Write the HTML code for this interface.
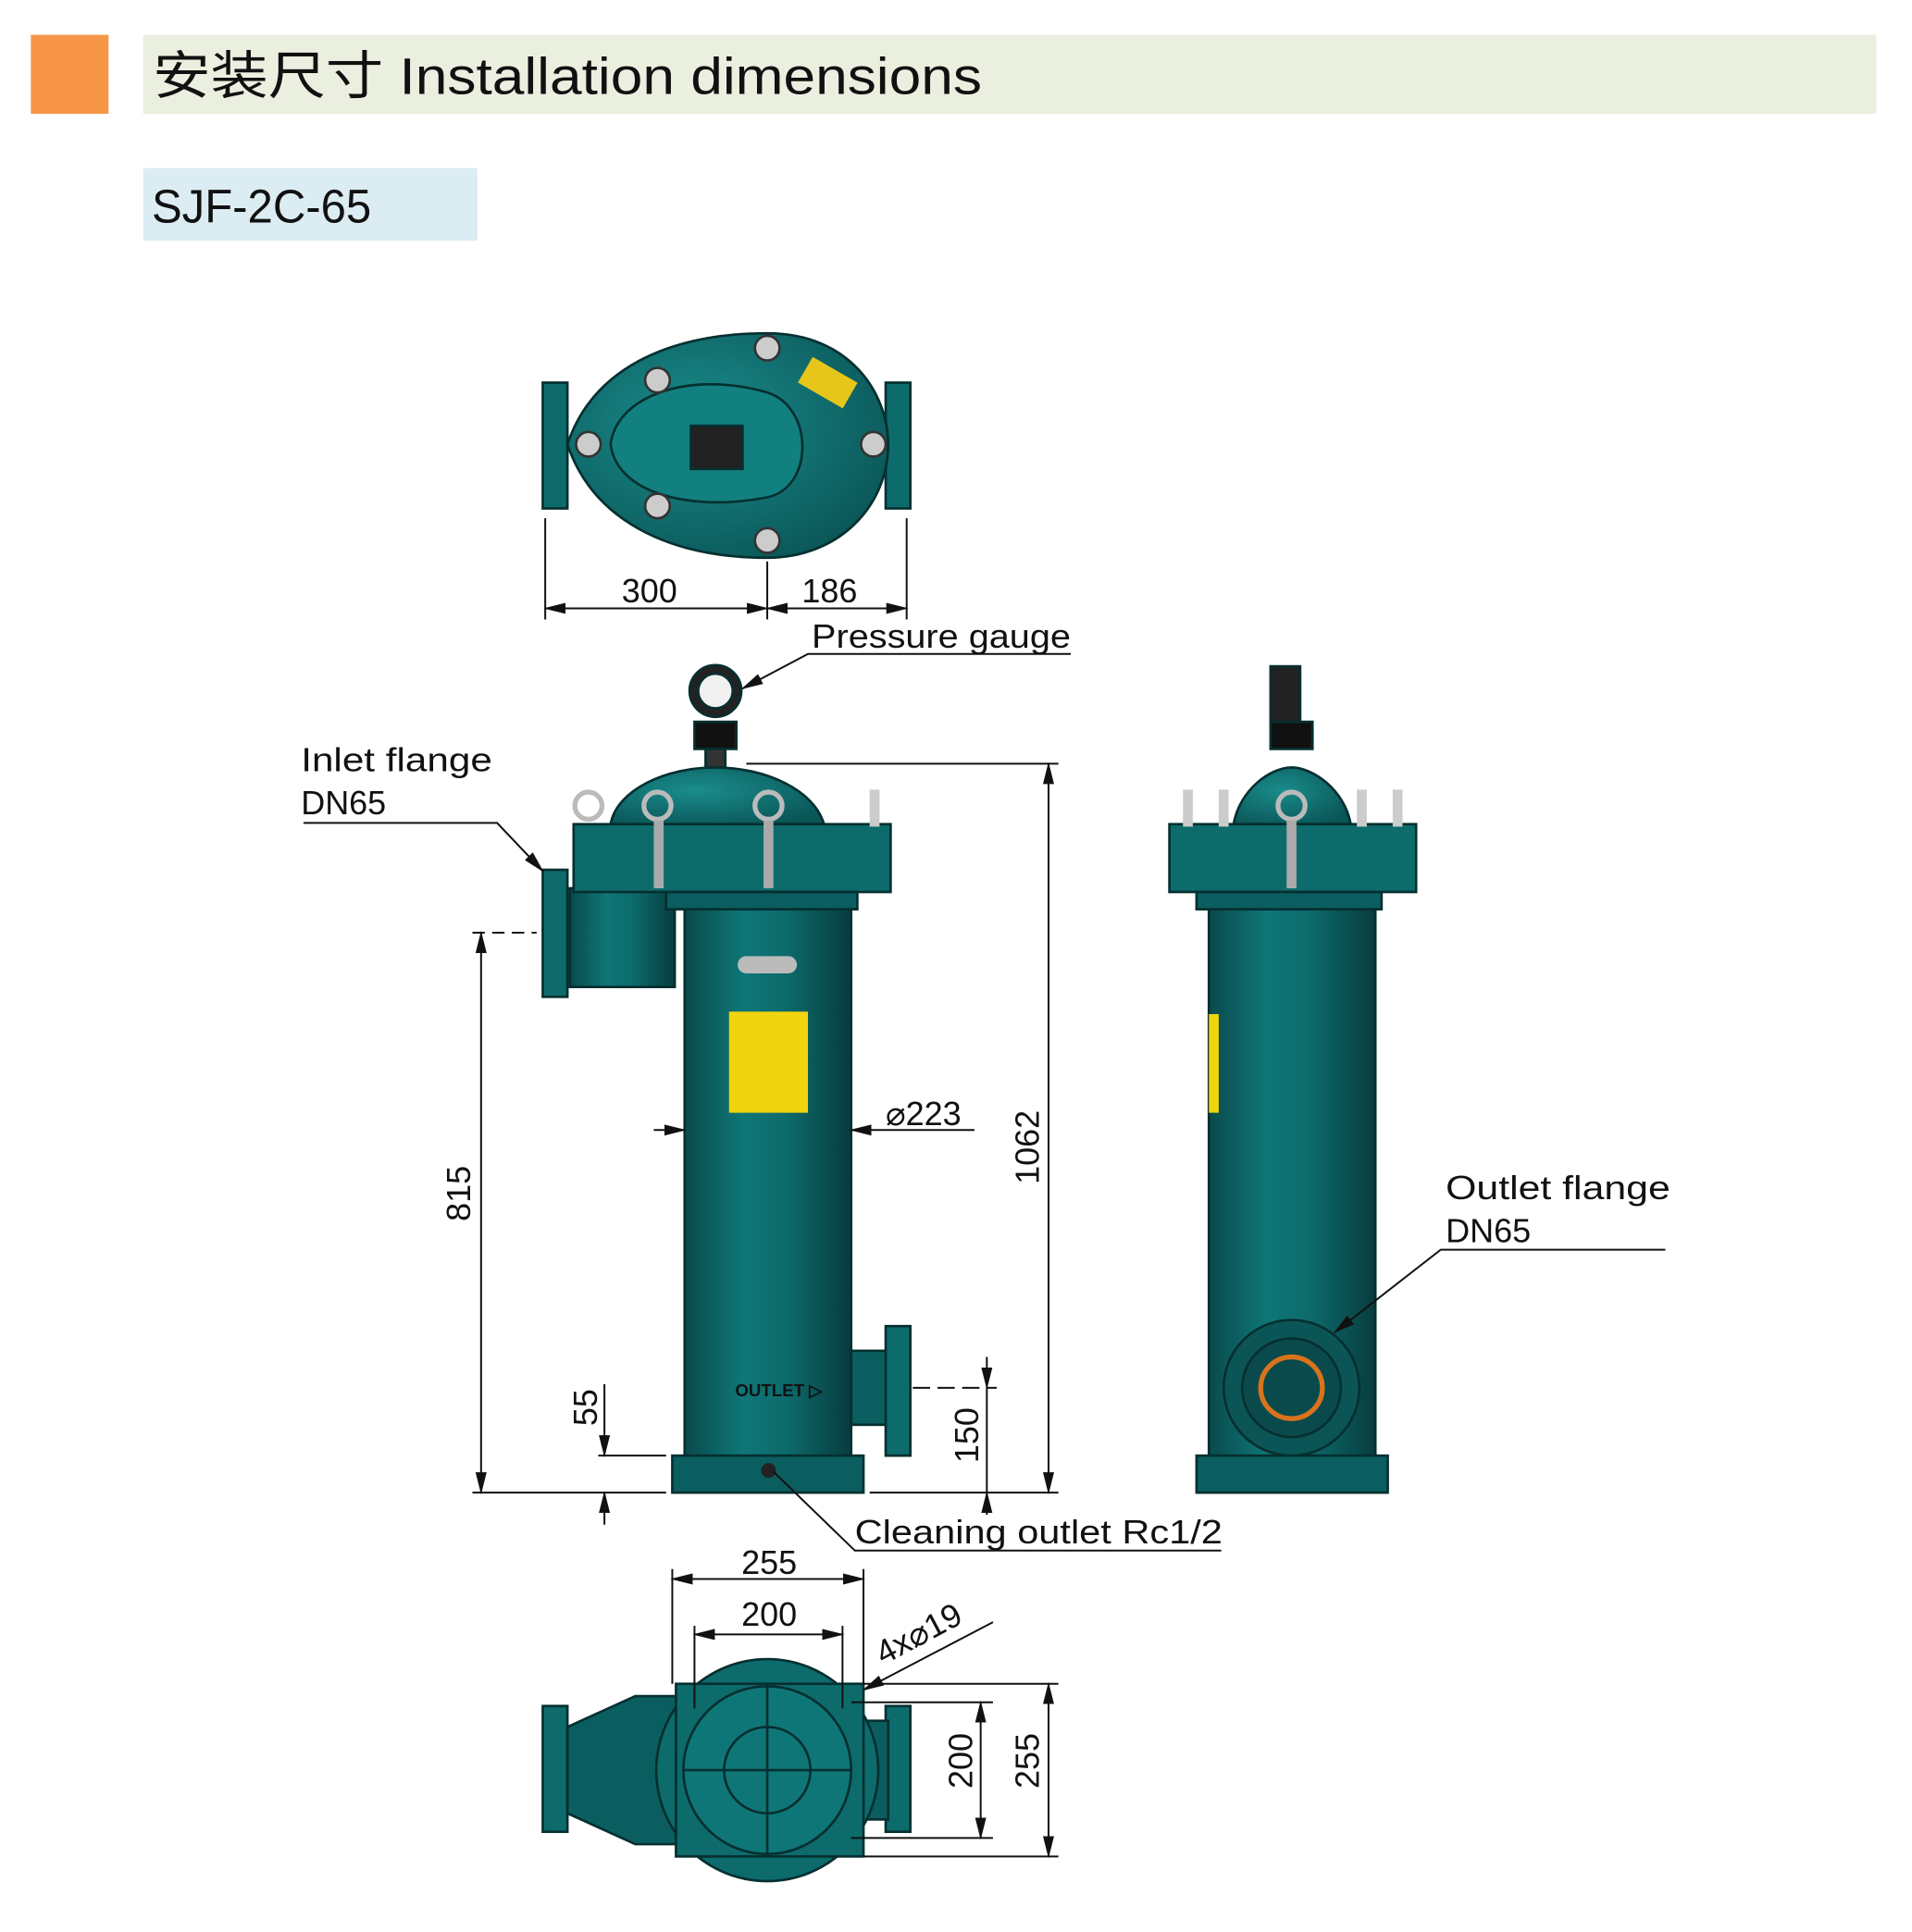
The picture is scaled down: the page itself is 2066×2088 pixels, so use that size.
<!DOCTYPE html>
<html><head><meta charset="utf-8"><style>
html,body{margin:0;padding:0;background:#fff;width:2066px;height:2088px;overflow:hidden}
svg{display:block}
.dim{font-family:"Liberation Sans",sans-serif;font-size:27px;fill:#111}
.lab{font-family:"Liberation Sans",sans-serif;font-size:27px;fill:#111}
</style></head><body>
<svg width="2066" height="2088" viewBox="0 0 1550 1566" xmlns="http://www.w3.org/2000/svg">
<defs>
<linearGradient id="cyl" x1="0" x2="1" y1="0" y2="0">
<stop offset="0" stop-color="#0a4a4c"/><stop offset="0.35" stop-color="#0f7677"/><stop offset="0.6" stop-color="#0d6b6c"/><stop offset="1" stop-color="#073c3e"/></linearGradient>
<radialGradient id="dome" cx="0.4" cy="0.4" r="0.7"><stop offset="0" stop-color="#1a8c8c"/><stop offset="1" stop-color="#0a5556"/></radialGradient>
<marker id="ar" markerWidth="12" markerHeight="8" refX="11" refY="4" orient="auto-start-reverse"><path d="M0,1 L12,4 L0,7 z" fill="#111"/></marker>
</defs>
<!-- header -->
<rect x="25" y="28" width="63" height="64" fill="#f79646"/>
<rect x="116" y="28" width="1405" height="64" fill="#ebefdf"/>
<text x="124" y="76" font-family="'Liberation Sans','Noto Sans CJK SC',sans-serif" font-size="42" fill="#111" textLength="672" lengthAdjust="spacingAndGlyphs">安装尺寸 Installation dimensions</text>
<rect x="116" y="136" width="271" height="59" fill="#dbedf3"/>
<text x="123" y="180" font-family="'Liberation Sans',sans-serif" font-size="38" fill="#111" textLength="178" lengthAdjust="spacingAndGlyphs">SJF-2C-65</text>

<!-- TOP VIEW -->
<g stroke="#062f30" stroke-width="2">
<rect x="440" y="310" width="20" height="102" fill="#0d6b6c"/>
<rect x="718" y="310" width="20" height="102" fill="#0d6b6c"/>
<path d="M460,360 C480,300 540,270 622,270 C690,270 720,320 720,360 C720,410 680,452 622,452 C540,452 480,420 460,360 z" fill="url(#dome)"/>
<path d="M495,360 C500,320 560,300 622,318 C660,330 660,395 622,403 C560,415 500,400 495,360 z" fill="#12807f"/>
<rect x="560" y="345" width="42" height="35" fill="#222"/>
</g>
<g fill="#ccc" stroke="#333" stroke-width="2">
<circle cx="622" cy="282" r="10"/><circle cx="622" cy="438" r="10"/><circle cx="533" cy="308" r="10"/><circle cx="533" cy="410" r="10"/><circle cx="477" cy="360" r="10"/><circle cx="708" cy="360" r="10"/>
</g>
<rect x="650" y="298" width="42" height="24" fill="#e6c619" transform="rotate(30 671 310)"/>

<!-- FRONT VIEW -->
<g stroke="#062f30" stroke-width="2">
<rect x="462" y="720" width="85" height="80" fill="url(#cyl)"/>
<rect x="440" y="705" width="20" height="103" fill="#0d6b6c"/>
<rect x="555" y="735" width="135" height="447" fill="url(#cyl)"/>
<rect x="545" y="1180" width="155" height="30" fill="#0b5e60"/>
<path d="M495,668 C500,640 540,622 580,622 C620,622 660,640 668,668 z" fill="url(#dome)"/>
<rect x="465" y="668" width="257" height="55" fill="#0d6b6c"/>
<rect x="540" y="723" width="155" height="14" fill="#0b5e60"/>
<rect x="690" y="1095" width="30" height="60" fill="#0b5e60"/>
<rect x="718" y="1075" width="20" height="105" fill="#0d6b6c"/>
<rect x="572" y="598" width="16" height="24" fill="#333"/>
<rect x="563" y="585" width="34" height="22" fill="#111"/>
<circle cx="580" cy="560" r="21" fill="#222"/>
<circle cx="580" cy="560" r="14" fill="#f0f0f0"/>
</g>
<g fill="none" stroke="#bbb" stroke-width="4">
<circle cx="477" cy="653" r="11"/><circle cx="533" cy="653" r="11"/><circle cx="623" cy="653" r="11"/>
</g>
<rect x="530" y="665" width="8" height="55" fill="#aaa"/><rect x="619" y="665" width="8" height="55" fill="#aaa"/>
<rect x="705" y="640" width="8" height="30" fill="#ccc"/>
<rect x="591" y="820" width="64" height="82" fill="#efd40f"/>
<rect x="598" y="775" width="48" height="14" rx="7" fill="#bbb"/>
<text x="596" y="1132" font-family="'Liberation Sans',sans-serif" font-weight="bold" font-size="14" fill="#111">OUTLET ▷</text>
<circle cx="623" cy="1192" r="6" fill="#222"/>

<!-- SIDE VIEW -->
<g stroke="#062f30" stroke-width="2">
<rect x="980" y="735" width="135" height="447" fill="url(#cyl)"/>
<rect x="970" y="1180" width="155" height="30" fill="#0b5e60"/>
<path d="M1000,668 C1005,640 1030,622 1047,622 C1064,622 1090,640 1095,668 z" fill="url(#dome)"/>
<rect x="948" y="668" width="200" height="55" fill="#0d6b6c"/>
<rect x="970" y="723" width="150" height="14" fill="#0b5e60"/>
<rect x="1030" y="585" width="34" height="22" fill="#111"/>
<rect x="1030" y="540" width="24" height="45" fill="#222"/>
<circle cx="1047" cy="1125" r="55" fill="#0b5556"/>
<circle cx="1047" cy="1125" r="40" fill="#0a4a4c"/>
</g>
<circle cx="1047" cy="1125" r="25" fill="none" stroke="#d9731b" stroke-width="4"/>
<circle cx="1047" cy="653" r="11" fill="none" stroke="#bbb" stroke-width="4"/>
<rect x="1043" y="665" width="8" height="55" fill="#aaa"/>
<g fill="#ccc"><rect x="959" y="640" width="8" height="30"/><rect x="988" y="640" width="8" height="30"/><rect x="1100" y="640" width="8" height="30"/><rect x="1129" y="640" width="8" height="30"/></g>
<rect x="980" y="822" width="8" height="80" fill="#efd40f"/>

<!-- BOTTOM VIEW -->
<g stroke="#062f30" stroke-width="2">
<rect x="440" y="1383" width="20" height="102" fill="#0d6b6c"/>
<rect x="718" y="1383" width="20" height="102" fill="#0d6b6c"/>
<path d="M460,1400 L515,1375 L548,1375 L548,1495 L515,1495 L460,1470 z" fill="#0b5e60"/>
<rect x="700" y="1395" width="20" height="80" fill="#0b5e60"/>
<circle cx="622" cy="1435" r="90" fill="#0d6b6c"/>
<rect x="548" y="1365" width="152" height="140" fill="#0d6b6c"/>
<circle cx="622" cy="1435" r="68" fill="#0f7677"/>
<circle cx="622" cy="1435" r="35" fill="none"/>
<line x1="622" y1="1367" x2="622" y2="1503"/><line x1="554" y1="1435" x2="690" y2="1435"/>
</g>

<g stroke="#111" stroke-width="1.5" fill="none">
<line x1="442" y1="420" x2="442" y2="502"/><line x1="622" y1="455" x2="622" y2="502"/><line x1="735" y1="420" x2="735" y2="502"/>
<line x1="442" y1="493" x2="622" y2="493" marker-start="url(#ar)" marker-end="url(#ar)"/>
<line x1="622" y1="493" x2="735" y2="493" marker-start="url(#ar)" marker-end="url(#ar)"/>
<polyline points="602,558 655,530 868,530" marker-start="url(#ar)"/>
<polyline points="246,667 403,667 440,706" marker-end="url(#ar)"/>
<polyline points="1350,1013 1168,1013 1082,1080" marker-end="url(#ar)"/>
<polyline points="627,1193 693,1257 990,1257"/>
<line x1="605" y1="619" x2="858" y2="619"/>
<line x1="850" y1="619" x2="850" y2="1210" marker-start="url(#ar)" marker-end="url(#ar)"/>
<line x1="705" y1="1210" x2="858" y2="1210"/>
<line x1="383" y1="756" x2="435" y2="756" stroke-dasharray="10 6"/>
<line x1="390" y1="756" x2="390" y2="1210" marker-start="url(#ar)" marker-end="url(#ar)"/>
<line x1="383" y1="1210" x2="540" y2="1210"/>
<line x1="485" y1="1180" x2="540" y2="1180"/>
<line x1="490" y1="1122" x2="490" y2="1180" marker-end="url(#ar)"/>
<line x1="490" y1="1236" x2="490" y2="1210" marker-end="url(#ar)"/>
<line x1="740" y1="1125" x2="808" y2="1125" stroke-dasharray="14 6"/>
<line x1="800" y1="1100" x2="800" y2="1125" marker-end="url(#ar)"/>
<line x1="800" y1="1228" x2="800" y2="1210" marker-end="url(#ar)"/>
<line x1="800" y1="1125" x2="800" y2="1210"/>
<line x1="530" y1="916" x2="555" y2="916" marker-end="url(#ar)"/>
<line x1="690" y1="916" x2="790" y2="916" marker-start="url(#ar)"/>
<line x1="545" y1="1272" x2="545" y2="1365"/><line x1="700" y1="1272" x2="700" y2="1365"/>
<line x1="545" y1="1280" x2="700" y2="1280" marker-start="url(#ar)" marker-end="url(#ar)"/>
<line x1="563" y1="1318" x2="563" y2="1385"/><line x1="683" y1="1318" x2="683" y2="1385"/>
<line x1="563" y1="1325" x2="683" y2="1325" marker-start="url(#ar)" marker-end="url(#ar)"/>
<line x1="700" y1="1370" x2="805" y2="1315" marker-start="url(#ar)"/>
<line x1="690" y1="1380" x2="805" y2="1380"/><line x1="690" y1="1490" x2="805" y2="1490"/>
<line x1="795" y1="1380" x2="795" y2="1490" marker-start="url(#ar)" marker-end="url(#ar)"/>
<line x1="700" y1="1365" x2="858" y2="1365"/><line x1="700" y1="1505" x2="858" y2="1505"/>
<line x1="850" y1="1365" x2="850" y2="1505" marker-start="url(#ar)" marker-end="url(#ar)"/>
</g>

<g class="dim">
<text x="504" y="488">300</text>
<text x="650" y="488">186</text>
<text x="718" y="912">⌀223</text>
<text x="601" y="1276">255</text>
<text x="601" y="1318">200</text>
<text transform="translate(381,990) rotate(-90)">815</text>
<text transform="translate(842,960) rotate(-90)">1062</text>
<text transform="translate(484,1156) rotate(-90)">55</text>
<text transform="translate(793,1186) rotate(-90)">150</text>
<text transform="translate(788,1450) rotate(-90)">200</text>
<text transform="translate(842,1450) rotate(-90)">255</text>
<text transform="translate(716,1350) rotate(-28)">4x⌀19</text>
</g>
<g class="lab">
<text x="658" y="525" textLength="210" lengthAdjust="spacingAndGlyphs">Pressure gauge</text>
<text x="244" y="625" textLength="155" lengthAdjust="spacingAndGlyphs">Inlet flange</text>
<text x="244" y="660">DN65</text>
<text x="1172" y="972" textLength="182" lengthAdjust="spacingAndGlyphs">Outlet flange</text>
<text x="1172" y="1007">DN65</text>
<text x="693" y="1251" textLength="298" lengthAdjust="spacingAndGlyphs">Cleaning outlet Rc1/2</text>
</g>
</svg>
</body></html>
